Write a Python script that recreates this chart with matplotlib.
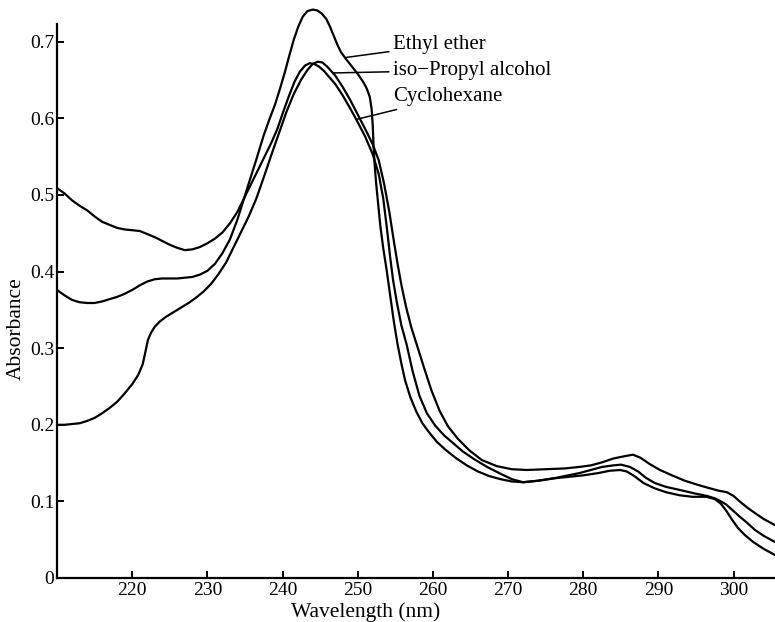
import numpy as np
import matplotlib
matplotlib.use("Agg")
import matplotlib.pyplot as plt

# ---------------- data ----------------
ether_wl = [210, 211, 212, 213, 214, 215, 216, 217, 218, 219, 220, 221, 222, 223, 224, 225,
            226, 227, 228, 229, 230, 231, 232, 233, 234, 234.7, 235.5, 236.5, 237.5, 238.3,
            239.0, 239.7, 240.3, 240.9, 241.5, 242.1, 242.7, 243.3, 244.0, 244.6, 245.2,
            245.8, 246.3, 246.8, 247.3, 247.8, 248.4, 249.2, 250.0, 250.7, 251.2, 251.6,
            251.85, 252.0, 252.1, 252.25, 252.45, 252.7, 253.0, 253.4, 253.8, 254.3, 254.8,
            255.3, 255.8, 256.3, 257.0, 257.8, 258.6, 259.5, 260.5, 261.6, 263, 264.5, 266,
            267.5, 269, 270.5, 272, 274, 276, 278, 280, 282, 283.5, 284.9, 285.8, 286.8,
            288, 289.5, 291, 292.8, 294.5, 296.4, 297.5, 298.3, 299, 299.8, 300.6, 301.5,
            302.6, 304, 305.5]
ether_abs = [0.376, 0.369, 0.363, 0.360, 0.359, 0.359, 0.361, 0.364, 0.367, 0.371, 0.376,
             0.382, 0.387, 0.390, 0.391, 0.391, 0.391, 0.392, 0.393, 0.396, 0.401, 0.410,
             0.424, 0.442, 0.468, 0.490, 0.515, 0.546, 0.578, 0.600, 0.618, 0.640, 0.660,
             0.682, 0.703, 0.720, 0.733, 0.740, 0.742, 0.741, 0.737, 0.730, 0.720, 0.708,
             0.696, 0.686, 0.678, 0.668, 0.658, 0.648, 0.639, 0.628, 0.612, 0.590, 0.565,
             0.540, 0.515, 0.490, 0.460, 0.430, 0.405, 0.370, 0.335, 0.305, 0.280, 0.258,
             0.236, 0.217, 0.202, 0.190, 0.178, 0.168, 0.157, 0.147, 0.139, 0.133, 0.129,
             0.126, 0.125, 0.127, 0.130, 0.132, 0.134, 0.137, 0.140, 0.141, 0.139, 0.133,
             0.124, 0.117, 0.112, 0.108, 0.106, 0.106, 0.103, 0.097, 0.088, 0.076, 0.065,
             0.056, 0.047, 0.038, 0.030]

cyclo_wl = [210, 211, 212, 213, 214, 215, 216, 217, 218, 219, 220, 221, 222, 223, 224, 225,
            226, 227, 228, 229, 230, 231, 232, 233, 234, 234.6, 235.5, 236.5, 237.5, 238.5,
            239.3, 240.0, 240.8, 241.6, 242.3, 243.0, 243.6, 244.2, 244.8, 245.5, 246.2, 247,
            248, 249, 250, 251, 252, 252.8, 253.4, 253.9, 254.3, 254.7, 255.2, 255.8, 256.5,
            257.3, 258.2, 259.2, 260.3, 261.5, 262.7, 264, 265.5, 267.2, 269, 270.5, 272,
            274, 276, 278, 279.5, 281, 282.5, 284, 285, 286.2, 287.3, 288.3, 289.5, 291,
            292.8, 295, 296.5, 297.5, 298.3, 299, 299.8, 300.7, 301.8, 302.8, 304, 305.5]
cyclo_abs = [0.509, 0.502, 0.493, 0.486, 0.480, 0.472, 0.465, 0.461, 0.457, 0.455, 0.454,
             0.453, 0.449, 0.445, 0.440, 0.435, 0.431, 0.428, 0.429, 0.432, 0.437, 0.443,
             0.451, 0.463, 0.478, 0.490, 0.508, 0.528, 0.548, 0.568, 0.586, 0.606, 0.628,
             0.648, 0.661, 0.669, 0.672, 0.671, 0.668, 0.662, 0.654, 0.645, 0.630, 0.613,
             0.595, 0.576, 0.553, 0.527, 0.495, 0.455, 0.420, 0.389, 0.360, 0.330, 0.305,
             0.270, 0.238, 0.215, 0.199, 0.186, 0.176, 0.165, 0.155, 0.145, 0.136, 0.129,
             0.125, 0.127, 0.130, 0.134, 0.137, 0.141, 0.145, 0.147, 0.148, 0.145, 0.139,
             0.131, 0.124, 0.119, 0.115, 0.110, 0.107, 0.104, 0.100, 0.096, 0.089, 0.081,
             0.072, 0.063, 0.055, 0.047]

ipa_wl = [210, 211, 212, 213, 214, 215, 216, 217, 218, 219, 220, 220.8, 221.4, 221.8, 222.1,
          222.5, 223.0, 223.7, 224.5, 225.5, 226.5, 227.5, 228.5, 229.5, 230.5, 231.5, 232.5,
          233.5, 234.5, 235.5, 236.5, 237.5, 238.5, 239.5, 240.5, 241.5, 242.5, 243.3, 244.0,
          244.7, 245.3, 246, 247, 248, 249, 250, 251, 252, 252.8, 253.5, 254.2, 254.8, 255.3,
          255.8, 256.4, 257.1, 258.0, 258.9, 259.8, 260.9, 262, 263.3, 264.8, 266.5, 268.5,
          270.5, 272.5, 275, 277.5, 279.5, 281, 282.5, 284, 285.5, 286.6, 287.6, 288.8,
          290.2, 291.8, 293.5, 295.1, 296.5, 298, 299.1, 300, 300.8, 301.8, 302.8, 304, 305.5]
ipa_abs = [0.200, 0.200, 0.201, 0.202, 0.205, 0.209, 0.215, 0.222, 0.230, 0.241, 0.253,
           0.265, 0.279, 0.297, 0.311, 0.320, 0.328, 0.335, 0.341, 0.347, 0.353, 0.359,
           0.366, 0.374, 0.384, 0.397, 0.412, 0.432, 0.452, 0.472, 0.495, 0.523, 0.552,
           0.580, 0.608, 0.632, 0.651, 0.663, 0.671, 0.674, 0.673, 0.667, 0.656, 0.641,
           0.624, 0.605, 0.586, 0.566, 0.545, 0.515, 0.478, 0.440, 0.410, 0.383, 0.355,
           0.328, 0.300, 0.272, 0.245, 0.218, 0.198, 0.182, 0.167, 0.154, 0.146, 0.142,
           0.141, 0.142, 0.143, 0.145, 0.147, 0.151, 0.156, 0.159, 0.161, 0.157, 0.149,
           0.141, 0.134, 0.127, 0.122, 0.118, 0.114, 0.112, 0.107, 0.100, 0.092, 0.085,
           0.077, 0.069]

xticks = [220, 230, 240, 250, 260, 270, 280, 290, 300]
yticks = [0, 0.1, 0.2, 0.3, 0.4, 0.5, 0.6, 0.7]
ytick_labels = ["0", "0.1", "0.2", "0.3", "0.4", "0.5", "0.6", "0.7"]

labels = ["Ethyl ether", "iso\u2212Propyl alcohol", "Cyclohexane"]

# ---------------- figure ----------------
plt.rcParams['font.family'] = ['Liberation Serif', 'DejaVu Serif']
fig = plt.figure(figsize=(7.75, 6.22), dpi=100)
ax = fig.add_axes([57 / 775, 44 / 622, 718 / 775, 573 / 622])

lw = 1.6
for wl, ab in [(ether_wl, ether_abs), (cyclo_wl, cyclo_abs), (ipa_wl, ipa_abs)]:
    ax.plot(wl, ab, color='black', lw=lw, solid_joinstyle='round',
            solid_capstyle='round', clip_on=False)

ax.set_xlim(210, 305.5)
ax.set_ylim(0, 0.748)

for s in ['top', 'right']:
    ax.spines[s].set_visible(False)
for s in ['left', 'bottom']:
    ax.spines[s].set_linewidth(1.6)
ax.spines['left'].set_bounds(0, 0.723)

ax.set_xticks(xticks)
ax.set_yticks(yticks)
ax.set_yticklabels(ytick_labels)
ax.tick_params(direction='in', length=5, width=1.4, labelsize=14, pad=3)
ax.tick_params(axis='y', pad=2)

ax.set_xlabel("Wavelength (nm)", fontsize=15.5)
ax.xaxis.set_label_coords((366 - 57) / 718, -(612 - 578) / 573)
ax.xaxis.label.set_verticalalignment('center')
ax.set_ylabel("Absorbance", fontsize=15.5)
ax.yaxis.set_label_coords(-(57 - 16) / 718, 0.436)
ax.yaxis.label.set_verticalalignment('center')

# labels with leader lines
text_x = 254.7
text_y = [0.696, 0.663, 0.628]
anchor = [(ether_wl, ether_abs, 248.3), (ipa_wl, ipa_abs, 246.7), (cyclo_wl, cyclo_abs, 249.8)]
for lab, ty, (wl, ab, ax_x) in zip(labels, text_y, anchor):
    ay = float(np.interp(ax_x, wl, ab))
    ax.annotate(lab, xy=(ax_x, ay), xytext=(text_x, ty), textcoords='data',
                fontsize=15, va='center', ha='left',
                arrowprops=dict(arrowstyle='-', color='black', lw=1.1,
                                shrinkA=1, shrinkB=0))

fig.savefig("out.png", dpi=100)
